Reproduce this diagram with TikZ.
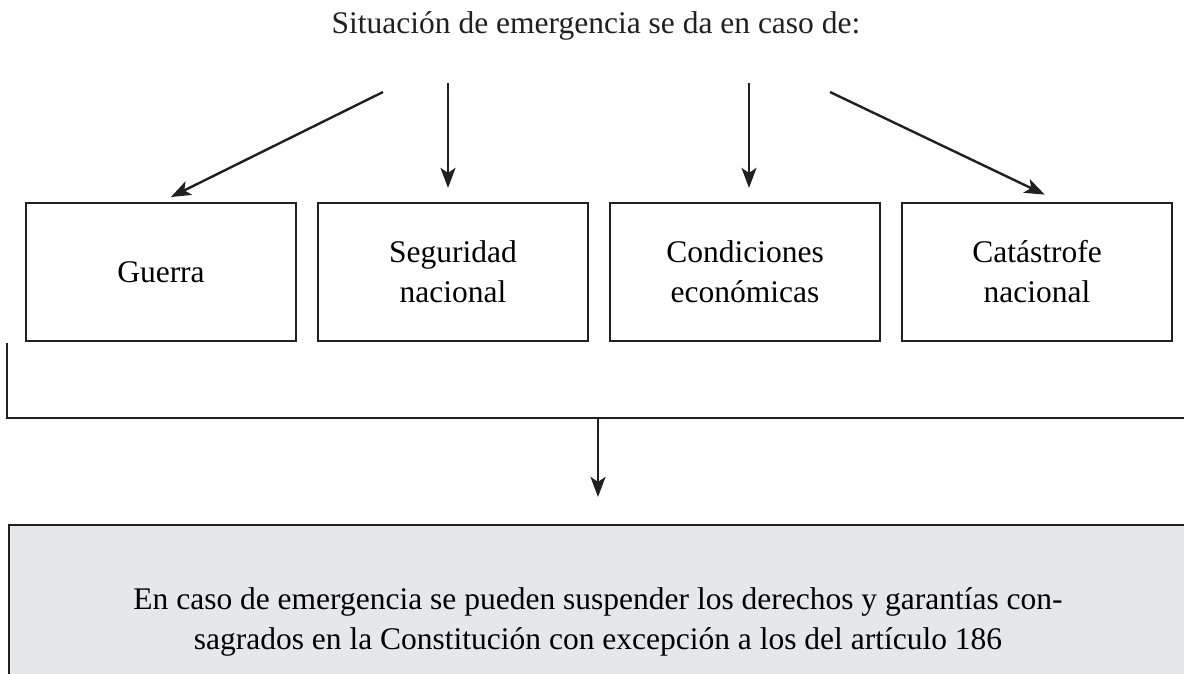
\documentclass[tikz,border=0pt]{standalone}
\usepackage{fontspec}
\setmainfont{Liberation Serif}
\usetikzlibrary{arrows.meta, calc, positioning}
\definecolor{ink}{HTML}{231F20}
\definecolor{panel}{HTML}{E6E7E8}
\tikzstyle{line} = [draw=ink, line width=2.4pt, -{Stealth[length=20pt,width=15pt,inset=5pt]}]
\tikzstyle{box} = [draw=ink, line width=2.2pt, minimum width=270pt, minimum height=138pt, inner sep=0pt, align=center]

\begin{document}
\begin{tikzpicture}
    [
        x=1pt, y=-1pt, node distance=292pt,
        font=\fontsize{31.5}{40}\selectfont,
        note/.style={draw=ink, fill=panel, line width=2.2pt, minimum width=1178pt, minimum height=194pt, align=center},
        bracket/.style={draw=ink, line width=2.2pt}
    ]

    \begin{scope}
        \clip (0,0) rectangle (1184,673);

        \node[anchor=base, text=ink] (title) at (596,33) {Situación de emergencia se da en caso de:};

        % the four cases
        \node[box] (guerra) at (161,272) {Guerra};
        \node[box, right of=guerra] (seguridad) {Seguridad\\nacional};
        \node[box, right of=seguridad] (condiciones) {Condiciones\\económicas};
        \node[box, right of=condiciones] (catastrofe) {Catástrofe\\nacional};

        \node[note] (nota) at (598,622) {En caso de emergencia se pueden suspender los derechos y garantías con-\\sagrados en la Constitución con excepción a los del artículo 186};

        \coordinate (a1) at (383,92);
        \coordinate (a2) at (448,83);
        \coordinate (a3) at (749,83);
        \coordinate (a4) at (830,92);

        \path[line, shorten >=11pt] (a1) -- (guerra.north);
        \path[line, shorten >=14pt] (a2) -- (a2 |- seguridad.north);
        \path[line, shorten >=14pt] (a3) -- (a3 |- condiciones.north);
        \path[line, shorten >=17pt] (a4) -- ([xshift=23pt]catastrofe.north);

        % bracket under the boxes
        \coordinate (b1) at (7,343);
        \coordinate (b2) at (1190,418);
        \draw[bracket] (b1) |- (b2);
        \path[line, shorten >=27pt] (nota.north |- b2) -- (nota.north);
    \end{scope}

\end{tikzpicture}
\end{document}
